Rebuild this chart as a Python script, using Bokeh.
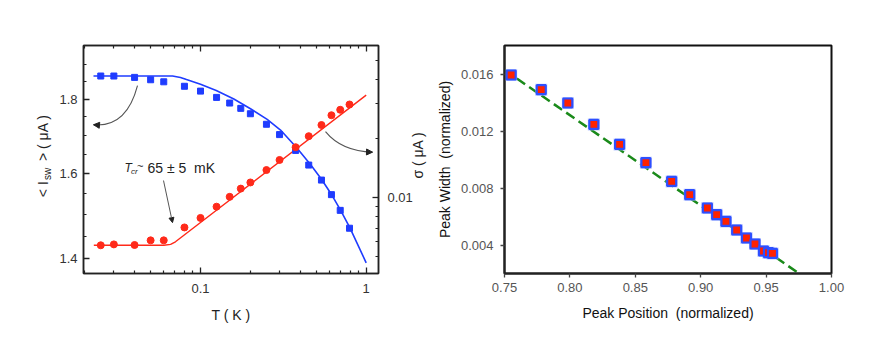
import numpy as np
from bokeh.plotting import figure
from bokeh.models import (Range1d, LogAxis, FixedTicker, Label, Arrow, NormalHead,
                          CustomJSTickFormatter, NumeralTickFormatter)
from bokeh.layouts import row
from bokeh.embed import file_html
from bokeh.resources import INLINE

# ---------------- data: left panel ----------------
T_pts = [0.025, 0.03, 0.04, 0.05, 0.06, 0.08, 0.1, 0.125, 0.15, 0.175, 0.2,
         0.25, 0.3, 0.375, 0.45, 0.537, 0.617, 0.697, 0.793]
Isw_pts = [1.867, 1.867, 1.863, 1.856, 1.850, 1.837, 1.823, 1.805, 1.789, 1.774,
           1.759, 1.730, 1.702, 1.660, 1.622, 1.584, 1.548, 1.510, 1.468]
sigma_pts = [0.00572, 0.00578, 0.00574, 0.00606, 0.00606, 0.00705, 0.00788, 0.00899,
             0.01009, 0.01111, 0.01194, 0.01381, 0.01554, 0.01804, 0.02053, 0.02340,
             0.02624, 0.02798, 0.02976]
T_fitI = [0.0226, 0.0678, 0.0757, 0.0823, 0.1, 0.1244, 0.1589, 0.2002, 0.2526, 0.304,
          0.3796, 0.4611, 0.5373, 0.6233, 0.6998, 0.7965, 1.0]
Isw_fit = [1.867, 1.867, 1.8628, 1.8565, 1.8426, 1.8248, 1.8003, 1.7730, 1.7433, 1.7142,
           1.6677, 1.6233, 1.5861, 1.5458, 1.5104, 1.4696, 1.390]
T_fitS = [0.0227, 0.0601, 0.0660, 0.0706, 1.0]
sigma_fit = [0.00572, 0.00572, 0.00578, 0.00596, 0.03322]

T_major = [0.1, 1]
T_minor = [0.02, 0.03, 0.04, 0.05, 0.06, 0.07, 0.08, 0.09,
           0.2, 0.3, 0.4, 0.5, 0.6, 0.7, 0.8, 0.9]
I_major = [1.4, 1.6, 1.8]
I_minor = [1.45, 1.5, 1.55, 1.65, 1.7, 1.75, 1.85, 1.9]
S_major = [0.01]
S_minor = [0.005, 0.006, 0.007, 0.008, 0.009, 0.02, 0.03, 0.04, 0.05]

T_range = (0.01967, 1.1865)
I_range = (1.3667, 1.9592)
S_range = (0.00411, 0.0594)

# ---------------- data: right panel ----------------
peak_pos = [0.7551, 0.7781, 0.7984, 0.8183, 0.8380, 0.8581, 0.8778, 0.8916, 0.9051,
            0.9122, 0.9193, 0.9275, 0.9350, 0.9415, 0.9480, 0.9518, 0.9549]
peak_width = [0.01593, 0.01490, 0.013965, 0.012463, 0.01106, 0.009775, 0.008463, 0.00753,
              0.006596, 0.006126, 0.005656, 0.005053, 0.004491, 0.00407, 0.003579,
              0.00346, 0.00341]
fit_x = [0.75, 0.9752]
fit_y = [0.01628, 0.0020]
pos_ticks = [0.75, 0.80, 0.85, 0.90, 0.95, 1.00]
width_ticks = [0.004, 0.008, 0.012, 0.016]

FONT = "Liberation Sans"
NB = "\u00a0"

# ---------------- left figure ----------------
LW, LH = 432, 350
LB, RB, TB, BB = 83, 54, 42, 75
FX0, FY0 = LB, TB
FW, FH = LW - LB - RB, LH - TB - BB

p = figure(width=LW, height=LH, x_axis_type="log", y_axis_type="log",
           x_range=Range1d(*T_range), y_range=Range1d(*I_range),
           output_backend="svg", toolbar_location=None,
           min_border_left=LB, min_border_right=RB, min_border_top=TB, min_border_bottom=BB)
p.extra_y_ranges = {"sigma": Range1d(*S_range)}
p.xgrid.visible = False
p.ygrid.visible = False
p.outline_line_color = "#222222"
p.outline_line_width = 1.5

fmt = CustomJSTickFormatter(code="return tick.toString();")


def style_axis(ax):
    ax.axis_line_color = "#222222"
    ax.axis_line_width = 1.5
    ax.major_tick_line_color = "#222222"
    ax.minor_tick_line_color = "#222222"
    ax.major_tick_line_width = 1.3
    ax.minor_tick_line_width = 1.2
    ax.major_tick_in = 6
    ax.major_tick_out = 0
    ax.minor_tick_in = 3
    ax.minor_tick_out = 0
    ax.major_label_text_font = FONT
    ax.major_label_text_font_size = "13px"
    ax.major_label_text_color = "#333333"


xa = p.xaxis[0]
xa.ticker = FixedTicker(ticks=T_major, minor_ticks=T_minor)
xa.formatter = fmt
style_axis(xa)
xa.major_label_standoff = 10
xa.axis_label = "T ( K )"
xa.axis_label_text_font = FONT
xa.axis_label_text_font_style = "normal"
xa.axis_label_text_font_size = "14px"
xa.axis_label_text_color = "#222222"
xa.axis_label_standoff = 11

ya = p.yaxis[0]
ya.ticker = FixedTicker(ticks=I_major, minor_ticks=I_minor)
ya.formatter = fmt
style_axis(ya)
ya.major_label_standoff = 6

top = LogAxis(ticker=FixedTicker(ticks=T_major, minor_ticks=T_minor), formatter=fmt)
style_axis(top)
top.major_label_text_font_size = "1px"
top.major_label_text_alpha = 0
top.major_label_standoff = 0
p.add_layout(top, "above")

ra = LogAxis(y_range_name="sigma", ticker=FixedTicker(ticks=S_major, minor_ticks=S_minor),
             formatter=fmt)
style_axis(ra)
ra.major_label_standoff = 9
p.add_layout(ra, "right")

BLUE = "#1f3cff"
RED = "#ff2a1a"
p.line(T_fitI, Isw_fit, line_color=BLUE, line_width=1.6)
p.line(T_fitS, sigma_fit, line_color=RED, line_width=1.4, y_range_name="sigma")
p.scatter(T_pts, Isw_pts, marker="square", size=6, fill_color=BLUE, line_color=BLUE)
p.scatter(T_pts, sigma_pts, marker="circle", size=7, fill_color=RED, line_color=RED,
          y_range_name="sigma")


def L2D(px, py):
    fx = (px - FX0) / FW
    fy = (FY0 + FH - py) / FH
    lx0, lx1 = np.log10(T_range[0]), np.log10(T_range[1])
    ly0, ly1 = np.log10(I_range[0]), np.log10(I_range[1])
    return 10 ** (lx0 + fx * (lx1 - lx0)), 10 ** (ly0 + fy * (ly1 - ly0))


GRAY = "#555555"


def curved_arrow(s, c, e):
    (x0, y0), (cx, cy), (x1, y1) = L2D(*s), L2D(*c), L2D(*e)
    p.quadratic(x0=[x0], y0=[y0], cx=[cx], cy=[cy], x1=[x1], y1=[y1],
                line_color=GRAY, line_width=1.1)
    p.add_layout(Arrow(x_start=cx, y_start=cy, x_end=x1, y_end=y1, line_alpha=0,
                       end=NormalHead(size=6, fill_color="#222222", line_color="#222222")))


curved_arrow((137, 83), (126, 126), (93, 123))
curved_arrow((325, 130), (341, 150), (372, 151))
(ax0, ay0), (ax1, ay1) = L2D(163, 180), L2D(172, 223)
p.add_layout(Arrow(x_start=ax0, y_start=ay0, x_end=ax1, y_end=ay1, line_color=GRAY,
                   line_width=1, end=NormalHead(size=5, fill_color="#222222",
                                                line_color="#222222")))


def lab(px, py, text, size, style="normal", angle=0, align="left", baseline="alphabetic",
        color="#222222", place=None):
    x, y = L2D(px, py)
    lb = Label(x=x, y=y, text=text, angle=angle, text_align=align,
               text_baseline=baseline, text_font=FONT, text_font_size=size,
               text_font_style=style, text_color=color)
    if place is None:
        p.add_layout(lb)
    else:
        p.add_layout(lb, place)


lab(124, 166.7, "T", "12px", style="italic")
lab(130.5, 170.5, "cr", "8px", style="italic")
lab(136.5, 165.5, "~", "11px")
lab(147, 166.7, "65 ± 5" + NB + " mK", "14px")

# left y label (rotated, with subscript) placed in the side panel
lab(42, 197, "< I", "14px", angle=np.pi / 2, baseline="middle", place="left")
lab(46.5, 179.5, "sw", "10px", angle=np.pi / 2, baseline="middle", place="left")
lab(42, 164, NB + "> ( μA )", "14px", angle=np.pi / 2, baseline="middle", place="left")
# right y label
lab(417, 152, "σ  ( μA )", "14px", angle=np.pi / 2, align="center", baseline="middle",
    place="right")

# ---------------- right figure ----------------
RW, RH = 448, 350
q = figure(width=RW, height=RH, x_range=Range1d(0.75, 1.0), y_range=Range1d(0.002, 0.018),
           output_backend="svg", toolbar_location=None,
           min_border_left=504 - LW, min_border_right=RW - (504 - LW) - 327,
           min_border_top=45, min_border_bottom=RH - 45 - 228)
q.xgrid.visible = False
q.ygrid.visible = False
q.outline_line_color = "#111111"
q.outline_line_width = 2

for ax in (q.xaxis[0], q.yaxis[0]):
    ax.axis_line_color = "#222222"
    ax.axis_line_width = 2
    ax.major_tick_line_color = "#444444"
    ax.major_tick_line_width = 1.3
    ax.major_tick_in = 0
    ax.major_tick_out = 4
    ax.minor_tick_line_color = None
    ax.major_label_text_font = FONT
    ax.major_label_text_font_size = "13px"
    ax.major_label_text_color = "#555555"
    ax.axis_label_text_font = FONT
    ax.axis_label_text_font_style = "normal"
    ax.axis_label_text_font_size = "14px"
    ax.axis_label_text_color = "#111111"

q.xaxis[0].ticker = FixedTicker(ticks=pos_ticks)
q.xaxis[0].formatter = NumeralTickFormatter(format="0.00")
q.xaxis[0].major_label_standoff = 5
q.xaxis[0].axis_label = "Peak Position" + NB + " (normalized)"
q.xaxis[0].axis_label_standoff = 10
q.yaxis[0].ticker = FixedTicker(ticks=width_ticks)
q.yaxis[0].formatter = NumeralTickFormatter(format="0.000")
q.yaxis[0].major_label_standoff = 7
q.yaxis[0].axis_label = "Peak Width" + NB + " (normalized)"
q.yaxis[0].axis_label_standoff = 5

q.line(fit_x, fit_y, line_color="#1a8a1a", line_width=2.5, line_dash="10 5")
q.scatter(peak_pos, peak_width, marker="square", size=12, fill_color="#9fb3ff",
          fill_alpha=0.7, line_color=None)
q.scatter(peak_pos, peak_width, marker="square", size=9, fill_color="#ff2200",
          line_color="#2e4fff", line_width=2.2)

layout = row(p, q)
open("out.html", "w").write(file_html(layout, INLINE))
